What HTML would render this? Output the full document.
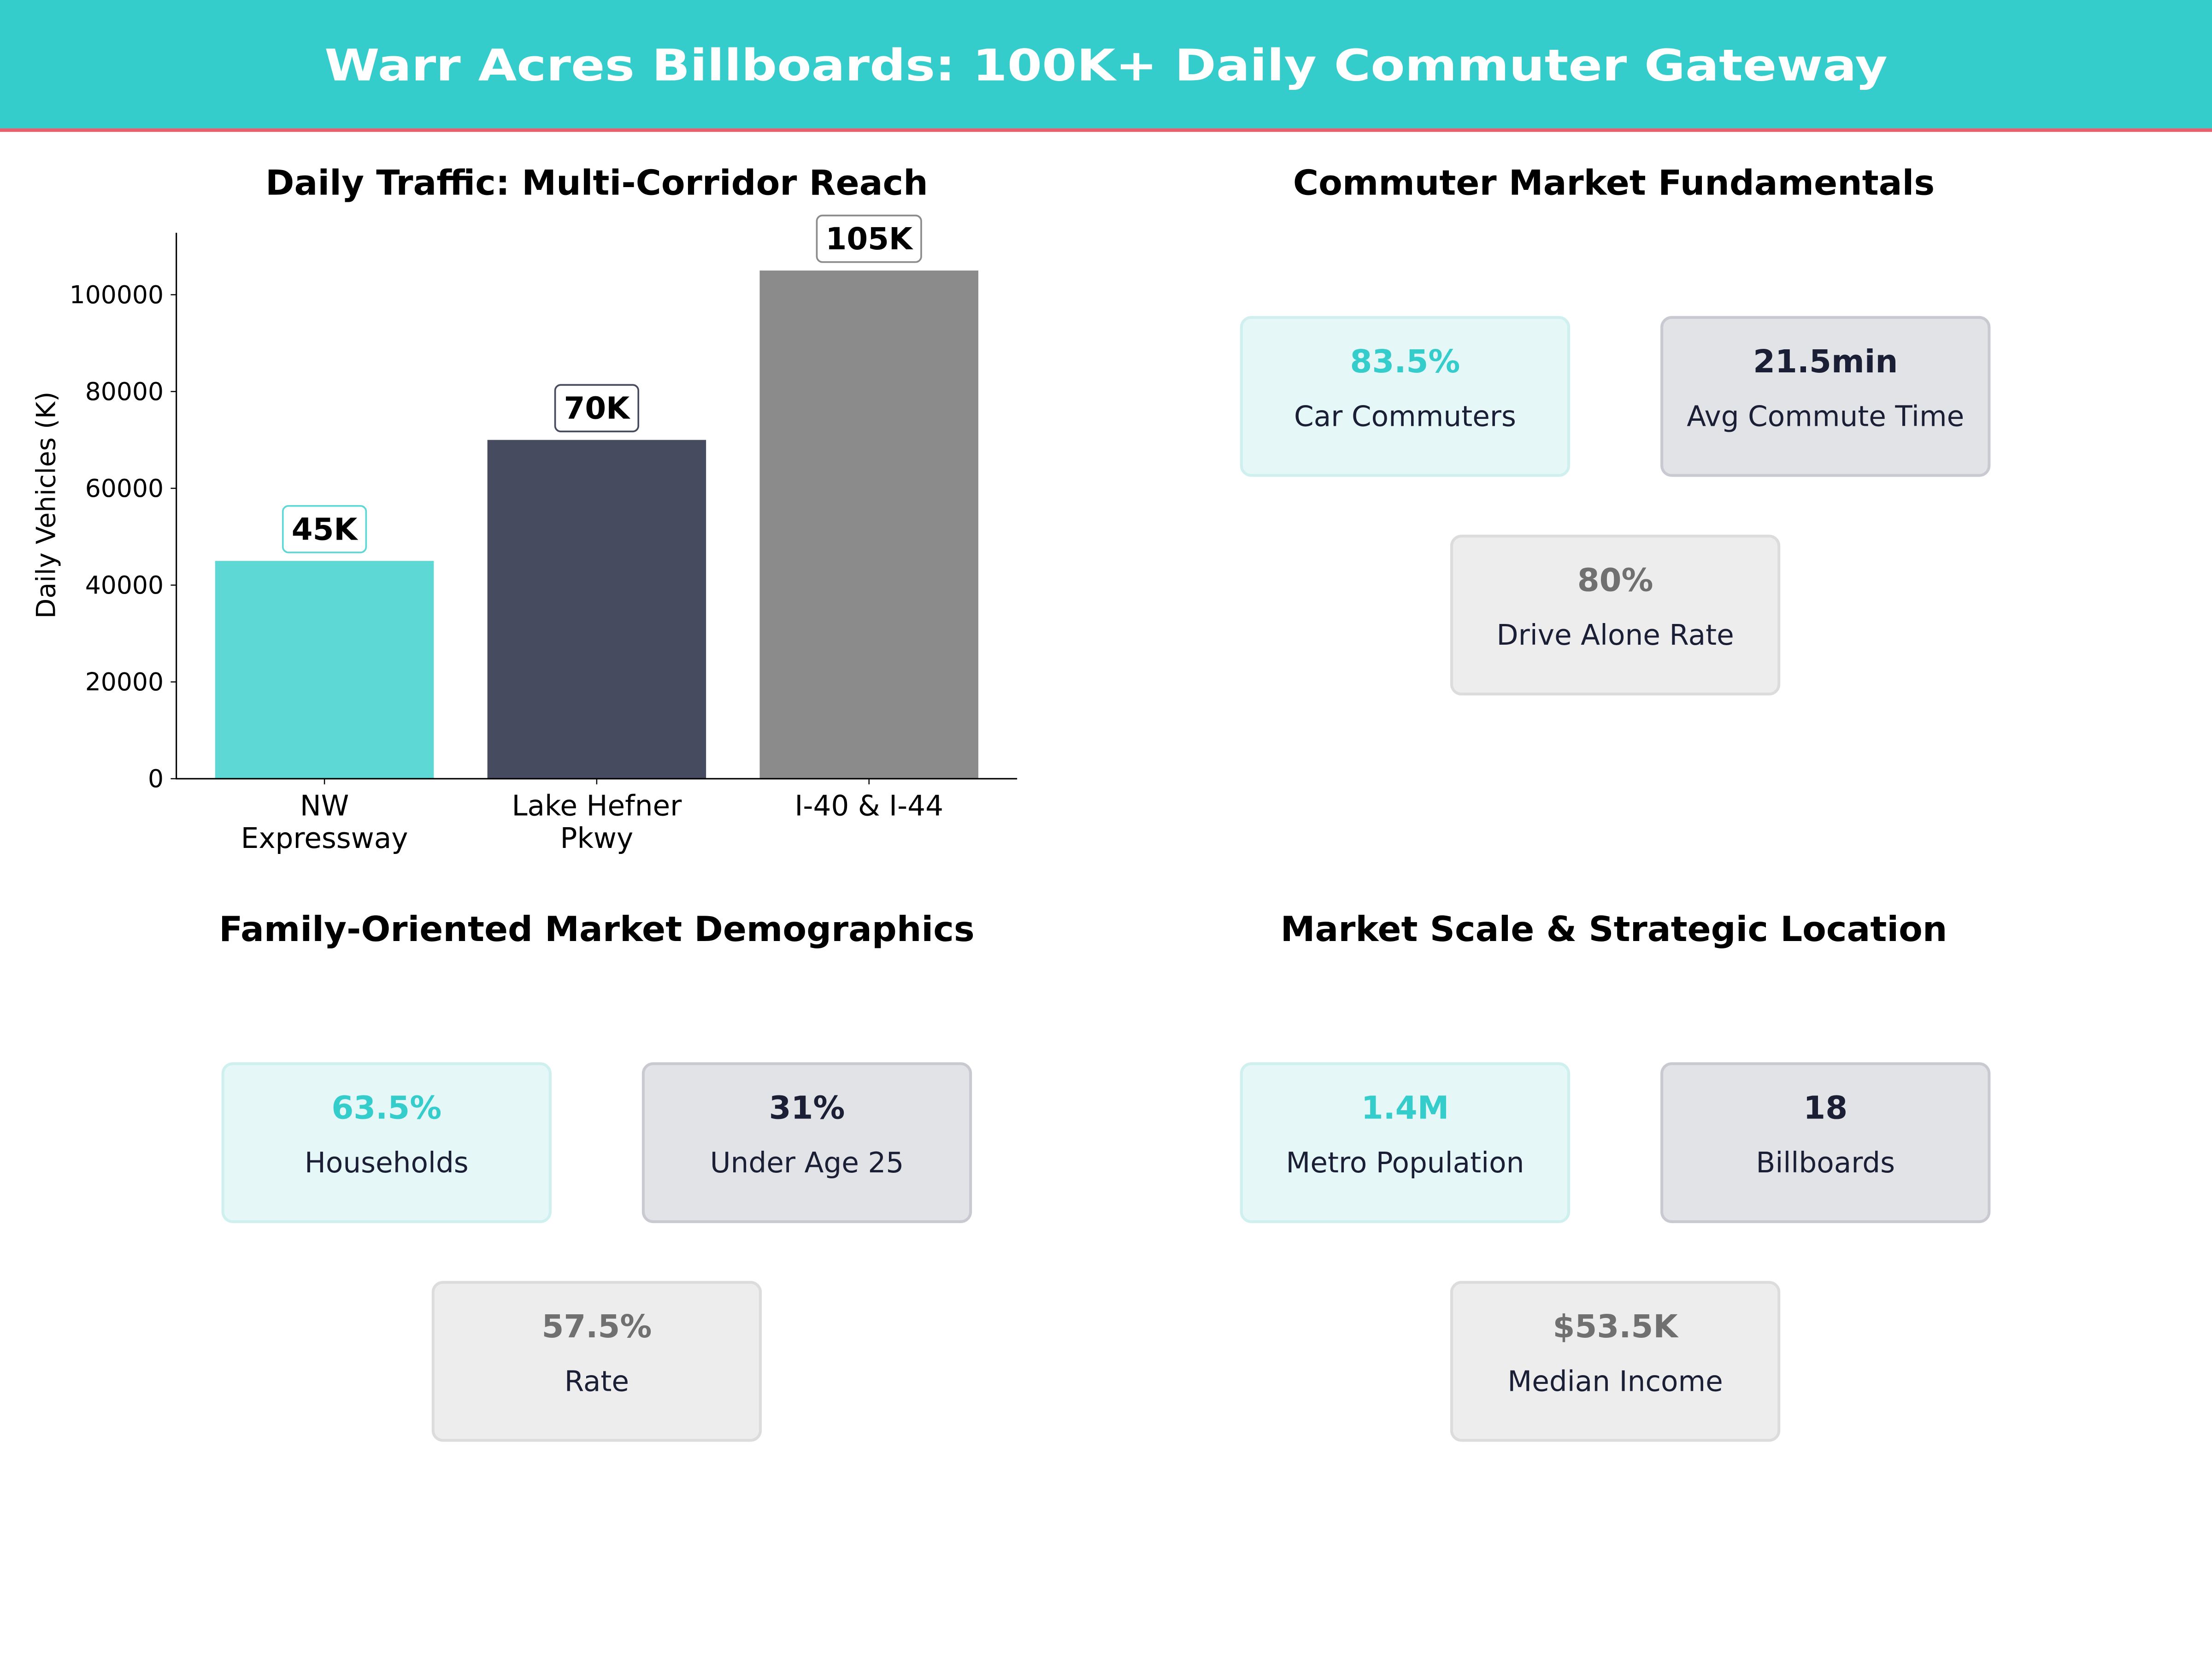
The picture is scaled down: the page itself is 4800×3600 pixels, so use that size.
<!DOCTYPE html>
<html><head><meta charset="utf-8"><style>
html,body{margin:0;padding:0;background:#fff;}
svg{display:block;font-family:"DejaVu Sans","Liberation Sans",sans-serif;}
</style></head><body>
<svg id="root" width="4800" height="3600" viewBox="0 0 1568 1176" xmlns="http://www.w3.org/2000/svg">
<rect x="0" y="0" width="1568" height="1176" fill="#ffffff"/>
<g>
<rect x="0" y="0" width="1568" height="91" fill="#35CCCC"/>
<rect x="0" y="91" width="1568" height="2.5" fill="#E8606E"/>
<text x="784" y="57" text-anchor="middle" font-size="31" font-weight="bold" fill="#ffffff" textLength="1108" lengthAdjust="spacingAndGlyphs">Warr Acres Billboards: 100K+ Daily Commuter Gateway</text>
</g>
<g id="bar-chart">
<text x="423" y="138" text-anchor="middle" font-size="24.6" font-weight="bold" fill="#000">Daily Traffic: Multi-Corridor Reach</text>
<text transform="translate(39,358) rotate(-90)" text-anchor="middle" font-size="18.5" fill="#000">Daily Vehicles (K)</text>
</g>
<text x="1144" y="138" text-anchor="middle" font-size="24.6" font-weight="bold" fill="#000">Commuter Market Fundamentals</text>
<text x="423" y="667" text-anchor="middle" font-size="24.6" font-weight="bold" fill="#000">Family-Oriented Market Demographics</text>
<text x="1144" y="667" text-anchor="middle" font-size="24.6" font-weight="bold" fill="#000">Market Scale &amp; Strategic Location</text>
<g id="cards"></g>
</svg>
<script>
const categories = [["NW","Expressway"],["Lake Hefner","Pkwy"],["I-40 & I-44"]];
const vehicles = [45000, 70000, 105000];
const valueLabels = ["45K","70K","105K"];
const barColors = ["#5DD8D4","#464B60","#8B8B8B"];
const yTicks = [0,20000,40000,60000,80000,100000];

const NS = "http://www.w3.org/2000/svg";
function mk(tag, attrs, parent, txt){const e=document.createElementNS(NS,tag);for(const k in attrs)e.setAttribute(k,attrs[k]);if(txt!=null)e.textContent=txt;parent.appendChild(e);return e;}
const chart = document.getElementById('bar-chart');
const ax = {left:125,right:721,top:165,bottom:552,ymax:112800};
function yScale(v){return ax.bottom-(v/ax.ymax)*(ax.bottom-ax.top);}
const step=193;
function xScale(i){return ax.left+105+step*i;}
const bw=155;
yTicks.forEach(t=>{
  const y=yScale(t);
  const l=mk('line',{x1:ax.left-4,x2:ax.left,y1:y,y2:y,stroke:'#000','stroke-width':0.8},chart);
  
  
  const tx=mk('text',{x:ax.left-9,y:y+6,'text-anchor':'end','font-size':17.5,fill:'#000'},chart,String(t));
  
  
});
vehicles.forEach((v,i)=>{
  const cx=xScale(i), y=yScale(v);
  const r=mk('rect',{x:cx-bw/2,y:y,width:bw,height:ax.bottom-y,fill:barColors[i]},chart);
  
  
  const lab=valueLabels[i];
  const w=lab.length*15+14;
  const b=mk('rect',{x:cx-w/2,y:y-39,width:w,height:33,rx:4,fill:'#fff',stroke:barColors[i],'stroke-width':1.2},chart);
  
  
  const t=mk('text',{x:cx,y:y-15,'text-anchor':'middle','font-size':21.5,'font-weight':'bold',fill:'#000'},chart,lab);
  
  
  const tk=mk('line',{x1:cx,x2:cx,y1:ax.bottom,y2:ax.bottom+4,stroke:'#000','stroke-width':0.8},chart);
  
  
  categories[i].forEach((ln,j)=>{
    const xt=mk('text',{x:cx,y:ax.bottom+26+j*23,'text-anchor':'middle','font-size':20,fill:'#000'},chart,ln);
    
    
  });
});
const sp=mk('path',{d:`M${ax.left},${ax.top} V${ax.bottom} H${ax.right}`,fill:'none',stroke:'#000','stroke-width':1},chart);



const cardsG=document.getElementById('cards');
const styles=[
 {fill:'#E5F7F7',stroke:'#D0F0F0',val:'#35CCCC'},
 {fill:'#E2E3E7',stroke:'#C9CAD1',val:'#1A1F36'},
 {fill:'#EDEDED',stroke:'#DCDCDC',val:'#707070'}];
const panels=[
 {ox:0,oy:0,cards:[["83.5%","Car Commuters"],["21.5min","Avg Commute Time"],["80%","Drive Alone Rate"]]},
 {ox:-722,oy:529,cards:[["63.5%","Households"],["31%","Under Age 25"],["57.5%","Rate"]]},
 {ox:0,oy:529,cards:[["1.4M","Metro Population"],["18","Billboards"],["$53.5K","Median Income"]]}];
const basePos=[[880,225],[1178,225],[1029,380]];
panels.forEach(p=>{
  p.cards.forEach((c,k)=>{
    const x=basePos[k][0]+p.ox, y=basePos[k][1]+p.oy, s=styles[k];
    const g=mk('g',{},cardsG);
    
    
    mk('rect',{x:x,y:y,width:232,height:112,rx:7,fill:s.fill,stroke:s.stroke,'stroke-width':2},g);
    const v=mk('text',{x:x+116,y:y+39,'text-anchor':'middle','font-size':22.5,'font-weight':'bold',fill:s.val},g,c[0]);
    
    
    const l=mk('text',{x:x+116,y:y+77,'text-anchor':'middle','font-size':20,fill:'#1A1F36'},g,c[1]);
    
    
  });
});
</script>
</body></html>
